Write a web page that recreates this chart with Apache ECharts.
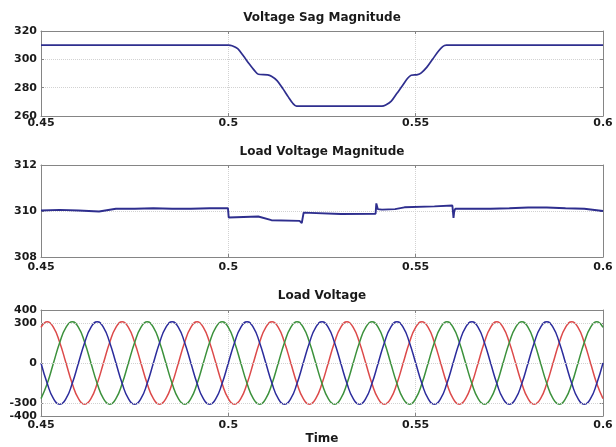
<!DOCTYPE html>
<html><head><meta charset="utf-8">
<script src="https://cdn.jsdelivr.net/npm/echarts@6/dist/echarts.min.js"></script>
<style>html,body{margin:0;padding:0;background:#fff}#c{width:616px;height:447px}</style>
</head><body><div id="c"></div>
<script>
// ---------- data ----------
const titles = ['Voltage Sag Magnitude', 'Load Voltage Magnitude', 'Load Voltage'];
const xLabelName = 'Time';

// Voltage sag magnitude
const sagT = [0.45, 0.5, 0.501, 0.5025, 0.504, 0.5055, 0.507, 0.508, 0.5105, 0.5115, 0.513, 0.5145, 0.516, 0.5172, 0.5182, 0.541, 0.542, 0.5435, 0.545, 0.5465, 0.5478, 0.5488, 0.5505, 0.5515, 0.553, 0.5545, 0.556, 0.5572, 0.5582, 0.6];
const sagV = [310, 310, 309.6, 307.5, 302.5, 297, 292, 289.5, 289, 288, 285, 279.5, 273.5, 269, 267, 267, 267.8, 270.5, 276, 281.5, 286.5, 288.8, 289.2, 290.5, 294.5, 300, 305.5, 309, 310, 310];

// Load voltage magnitude
const lvT = [0.45, 0.455, 0.46, 0.4655, 0.47, 0.475, 0.48, 0.485, 0.49, 0.495, 0.4999, 0.5001, 0.5005, 0.508, 0.5115, 0.519, 0.5196, 0.5198, 0.5201, 0.5205, 0.53, 0.5393, 0.5395, 0.5397, 0.5399, 0.541, 0.5445, 0.547, 0.555, 0.5598, 0.5599, 0.5601, 0.5603, 0.5606, 0.565, 0.57, 0.575, 0.58, 0.585, 0.59, 0.595, 0.6];
const lvV = [310.02, 310.05, 310.02, 309.98, 310.1, 310.1, 310.12, 310.1, 310.1, 310.12, 310.12, 309.72, 309.78, 309.76, 309.6, 309.57, 309.48, 309.47, 309.93, 309.86, 309.87, 309.88, 310.33, 310.3, 310.08, 310.06, 310.08, 310.16, 310.2, 310.24, 310.28, 309.7, 310.0, 310.1, 310.1, 310.1, 310.12, 310.15, 310.15, 310.12, 310.1, 310.0];

// Load voltage, three phases (sampled every 1/600 s)
const phT = [
 0.45, 0.45167, 0.45333, 0.455, 0.45667, 0.45833,
 0.46, 0.46167, 0.46333, 0.465, 0.46667, 0.46833,
 0.47, 0.47167, 0.47333, 0.475, 0.47667, 0.47833,
 0.48, 0.48167, 0.48333, 0.485, 0.48667, 0.48833,
 0.49, 0.49167, 0.49333, 0.495, 0.49667, 0.49833,
 0.5, 0.50167, 0.50333, 0.505, 0.50667, 0.50833,
 0.51, 0.51167, 0.51333, 0.515, 0.51667, 0.51833,
 0.52, 0.52167, 0.52333, 0.525, 0.52667, 0.52833,
 0.53, 0.53167, 0.53333, 0.535, 0.53667, 0.53833,
 0.54, 0.54167, 0.54333, 0.545, 0.54667, 0.54833,
 0.55, 0.55167, 0.55333, 0.555, 0.55667, 0.55833,
 0.56, 0.56167, 0.56333, 0.565, 0.56667, 0.56833,
 0.57, 0.57167, 0.57333, 0.575, 0.57667, 0.57833,
 0.58, 0.58167, 0.58333, 0.585, 0.58667, 0.58833,
 0.59, 0.59167, 0.59333, 0.595, 0.59667, 0.59833,
 0.6];
const phRed = [
 269, 311, 269, 155, 0, -155, -269, -311, -269, -155, 0, 155,
 269, 311, 269, 155, 0, -155, -269, -311, -269, -155, 0, 155,
 269, 311, 269, 155, 0, -155, -269, -311, -269, -155, 0, 155,
 269, 311, 269, 155, 0, -155, -269, -311, -269, -155, 0, 155,
 269, 311, 269, 155, 0, -155, -269, -311, -269, -155, 0, 155,
 269, 311, 269, 155, 0, -155, -269, -311, -269, -155, 0, 155,
 269, 311, 269, 155, 0, -155, -269, -311, -269, -155, 0, 155,
 269, 311, 269, 155, 0, -155, -269];
const phGreen = [
 -269, -155, 0, 155, 269, 311, 269, 155, 0, -155, -269, -311,
 -269, -155, 0, 155, 269, 311, 269, 155, 0, -155, -269, -311,
 -269, -155, 0, 155, 269, 311, 269, 155, 0, -155, -269, -311,
 -269, -155, 0, 155, 269, 311, 269, 155, 0, -155, -269, -311,
 -269, -155, 0, 155, 269, 311, 269, 155, 0, -155, -269, -311,
 -269, -155, 0, 155, 269, 311, 269, 155, 0, -155, -269, -311,
 -269, -155, 0, 155, 269, 311, 269, 155, 0, -155, -269, -311,
 -269, -155, 0, 155, 269, 311, 269];
const phBlue = [
 0, -155, -269, -311, -269, -155, 0, 155, 269, 311, 269, 155,
 0, -155, -269, -311, -269, -155, 0, 155, 269, 311, 269, 155,
 0, -155, -269, -311, -269, -155, 0, 155, 269, 311, 269, 155,
 0, -155, -269, -311, -269, -155, 0, 155, 269, 311, 269, 155,
 0, -155, -269, -311, -269, -155, 0, 155, 269, 311, 269, 155,
 0, -155, -269, -311, -269, -155, 0, 155, 269, 311, 269, 155,
 0, -155, -269, -311, -269, -155, 0, 155, 269, 311, 269, 155,
 0, -155, -269, -311, -269, -155, 0];

// axis settings
const xMin = 0.45, xMax = 0.6, xStep = 0.05;
const yRanges = [[260, 320, 20], [308, 312, 2], [-400, 400, 100]];
const y3Ticks = [-400, -300, 0, 300, 400];
const y3Grid = [300, 0, -300];

// ---------- chart ----------
const FONT = 'DejaVu Sans';
const AX = '#858585';
const GR = '#d2d2d2';
const zip = (a, b) => a.map((v, i) => [v, b[i]]);

const grids = [
  {left: 41, right: 13, top: 31, height: 85},
  {left: 41, right: 13, top: 165, height: 92},
  {left: 41, right: 13, top: 310, height: 106}
];
const xMargins = [2, 5, 4];
const lbl = {color: '#1a1a1a', fontFamily: FONT, fontWeight: 'bold', fontSize: 11};

const xAxes = [], yAxes = [];
grids.forEach((g, i) => {
  xAxes.push({
    type: 'value', gridIndex: i, min: xMin, max: xMax, interval: xStep, position: 'bottom',
    axisLine: {show: true, onZero: false, lineStyle: {color: AX}},
    axisTick: {show: true, inside: true, length: 3, lineStyle: {color: AX}},
    axisLabel: Object.assign({margin: xMargins[i], showMinLabel: true, showMaxLabel: true}, lbl),
    splitLine: {show: true, lineStyle: {color: GR, type: 'dotted'}},
    name: i === 2 ? xLabelName : '', nameLocation: 'middle', nameGap: 17,
    nameTextStyle: {color: '#1a1a1a', fontFamily: FONT, fontWeight: 'bold', fontSize: 12}
  });
  xAxes.push({
    type: 'value', gridIndex: i, min: xMin, max: xMax, interval: xStep, position: 'top',
    axisLine: {show: true, onZero: false, lineStyle: {color: AX}},
    axisTick: {show: true, inside: true, length: 3, lineStyle: {color: AX}},
    axisLabel: {show: false}, splitLine: {show: false}
  });
  const r = yRanges[i];
  const left = {
    type: 'value', gridIndex: i, min: r[0], max: r[1], interval: r[2], position: 'left',
    axisLine: {show: true, onZero: false, lineStyle: {color: AX}},
    axisTick: {show: true, inside: true, length: 3, lineStyle: {color: AX}},
    axisLabel: Object.assign({margin: 4}, lbl),
    splitLine: {show: i !== 2, lineStyle: {color: GR, type: 'dotted'}}
  };
  const right = {
    type: 'value', gridIndex: i, min: r[0], max: r[1], interval: r[2], position: 'right',
    axisLine: {show: true, onZero: false, lineStyle: {color: AX}},
    axisTick: {show: true, inside: true, length: 3, lineStyle: {color: AX}},
    axisLabel: {show: false}, splitLine: {show: false}
  };
  if (i === 2) {
    left.axisLabel.customValues = y3Ticks;
    left.axisLabel.formatter = v => (y3Ticks.indexOf(v) >= 0 ? String(v) : '');
    left.axisTick.customValues = y3Ticks;
    right.axisTick.customValues = y3Ticks;
  }
  yAxes.push(left, right);
});

const titleTops = [12, 146, 290];
const chart = echarts.init(document.getElementById('c'), null, {renderer: 'canvas'});
chart.setOption({
  backgroundColor: '#ffffff',
  animation: false,
  title: titles.map((t, i) => ({
    text: t, left: 322, top: titleTops[i], textAlign: 'center', padding: 0,
    textStyle: {color: '#1a1a1a', fontFamily: FONT, fontWeight: 'bold', fontSize: 12}
  })),
  grid: grids,
  xAxis: xAxes,
  yAxis: yAxes,
  series: [
    {type: 'line', xAxisIndex: 0, yAxisIndex: 0, data: zip(sagT, sagV), showSymbol: false, smooth: 0.3,
     lineStyle: {color: '#2e2e8e', width: 1.7}},
    {type: 'line', xAxisIndex: 2, yAxisIndex: 2, data: zip(lvT, lvV), showSymbol: false,
     lineStyle: {color: '#2e2e8e', width: 1.9}},
    {type: 'line', xAxisIndex: 4, yAxisIndex: 4, data: zip(phT, phRed), showSymbol: false, smooth: true,
     lineStyle: {color: '#dc4a4a', width: 1.5},
     markLine: {silent: true, symbol: 'none', label: {show: false},
       lineStyle: {color: GR, type: 'dotted', width: 1},
       data: y3Grid.map(v => ({yAxis: v}))}},
    {type: 'line', xAxisIndex: 4, yAxisIndex: 4, data: zip(phT, phGreen), showSymbol: false, smooth: true,
     lineStyle: {color: '#3c913c', width: 1.5}},
    {type: 'line', xAxisIndex: 4, yAxisIndex: 4, data: zip(phT, phBlue), showSymbol: false, smooth: true,
     lineStyle: {color: '#2c2c9c', width: 1.5}}
  ]
});
</script>
</body></html>
